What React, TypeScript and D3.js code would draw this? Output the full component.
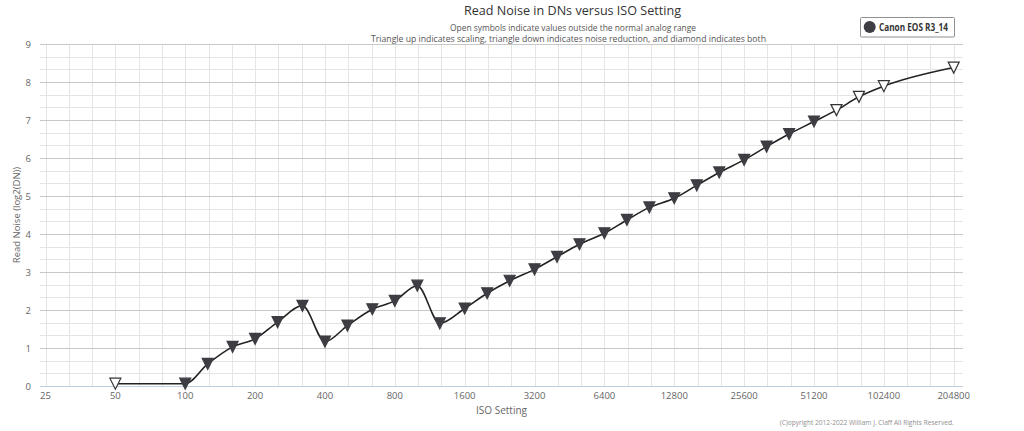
import React from "react";
import * as d3 from "d3";

const isoValues = [50, 100, 125, 160, 200, 250, 320, 400, 500, 640, 800, 1000, 1250, 1600, 2000, 2500, 3200, 4000, 5000, 6400, 8000, 10000, 12800, 16000, 20000, 25600, 32000, 40000, 51200, 64000, 80000, 102400, 204800];
const readNoise = [0.06, 0.06, 0.58, 1.03, 1.24, 1.68, 2.11, 1.17, 1.59, 2.02, 2.24, 2.64, 1.65, 2.04, 2.44, 2.77, 3.07, 3.4, 3.73, 4.02, 4.37, 4.7, 4.94, 5.28, 5.62, 5.95, 6.3, 6.63, 6.96, 7.26, 7.61, 7.89, 8.38];
const openSymbol = [true, false, false, false, false, false, false, false, false, false, false, false, false, false, false, false, false, false, false, false, false, false, false, false, false, false, false, false, false, true, true, true, true];
const xTicks = [25, 50, 100, 200, 400, 800, 1600, 3200, 6400, 12800, 25600, 51200, 102400, 204800];
const yTicks = [0, 1, 2, 3, 4, 5, 6, 7, 8, 9];
const seriesName = "Canon EOS R3_14";
const titleText = "Read Noise in DNs versus ISO Setting";
const subtitleLines = [
  "Open symbols indicate values outside the normal analog range",
  "Triangle up indicates scaling, triangle down indicates noise reduction, and diamond indicates both",
];
const xTitle = "ISO Setting";
const yTitle = "Read Noise (log2(DN))";
const credits = "(C)opyright 2012-2022 William J. Claff All Rights Reserved.";

const FONT = "'Open Sans', 'DejaVu Sans', sans-serif";

export default function App() {
  const plotLeft = 40;
  const plotRight = 963;
  const plotTop = 44;
  const plotBottom = 386;

  const x = d3.scaleLog().base(2).domain([25, 204800]).range([45.5, 953.7]);
  const y = d3.scaleLinear().domain([0, 9]).range([plotBottom, plotTop]);

  // minor vertical grid lines at 1/3 stops
  const vGrid: number[] = [];
  for (let k = 0; k <= 39; k++) vGrid.push(25 * Math.pow(2, k / 3));
  const hMinor: number[] = [];
  for (let k = 0; k <= 27; k++) if (k % 3 !== 0) hMinor.push(k / 3);

  const data = isoValues.map((iso, i) => ({ iso, v: readNoise[i], open: openSymbol[i] }));
  const line = d3
    .line<{ iso: number; v: number }>()
    .x((d) => x(d.iso))
    .y((d) => y(d.v))
    .curve(d3.curveMonotoneX);

  const r = 5.5;
  const tri = (cx: number, cy: number) =>
    `M${cx - r},${cy - r}L${cx + r},${cy - r}L${cx},${cy + r}Z`;

  return (
    <svg width={1024} height={431} style={{ position: "absolute", left: 0, top: 0, background: "#fff" }} fontFamily={FONT}>
      <rect x={0} y={0} width={1024} height={431} fill="#fff" />
      {/* vertical grid */}
      {vGrid.map((g, i) => (
        <line key={"vg" + i} x1={Math.round(x(g)) + 0.5} x2={Math.round(x(g)) + 0.5} y1={plotTop} y2={plotBottom} stroke="#e4e4e4" strokeWidth={1} />
      ))}
      {/* horizontal minor grid */}
      {hMinor.map((g, i) => (
        <line key={"hm" + i} x1={plotLeft} x2={plotRight} y1={Math.round(y(g)) + 0.5} y2={Math.round(y(g)) + 0.5} stroke="#e4e4e4" strokeWidth={1} />
      ))}
      {/* horizontal major grid */}
      {yTicks.filter((t) => t !== 0).map((t) => (
        <line key={"hM" + t} x1={plotLeft} x2={plotRight} y1={Math.round(y(t)) + 0.5} y2={Math.round(y(t)) + 0.5} stroke="#c8c8c8" strokeWidth={1} />
      ))}
      {/* x axis line */}
      <line x1={plotLeft} x2={plotRight} y1={Math.round(y(0)) + 0.5} y2={Math.round(y(0)) + 0.5} stroke="#c0d0e0" strokeWidth={1} />

      {/* y tick labels */}
      {yTicks.map((t) => (
        <text key={"yl" + t} x={31} y={y(t) + 3.5} textAnchor="end" fontSize={9.5} fill="#666">
          {t}
        </text>
      ))}
      {/* x tick labels */}
      {xTicks.map((t) => (
        <text key={"xl" + t} x={x(t)} y={399} textAnchor="middle" fontSize={9.5} fill="#666">
          {t}
        </text>
      ))}

      {/* axis titles */}
      <text x={501.5} y={414} textAnchor="middle" fontSize={10} fill="#666">
        {xTitle}
      </text>
      <text transform={`translate(20,${(plotTop + plotBottom) / 2}) rotate(-90)`} textAnchor="middle" fontSize={9.5} fill="#666">
        {yTitle}
      </text>

      {/* series line */}
      <path d={line(data) || ""} fill="none" stroke="#222" strokeWidth={1.6} />
      {/* markers */}
      {data.map((d, i) => (
        <path
          key={"m" + i}
          d={tri(x(d.iso), y(d.v))}
          fill={d.open ? "#fff" : "#3d3d43"}
          stroke={d.open ? "#333" : "#3d3d43"}
          strokeWidth={1.2}
        />
      ))}

      {/* title */}
      <text x={572.5} y={15} textAnchor="middle" fontSize={13} fill="#333" textLength={217} lengthAdjust="spacingAndGlyphs">
        {titleText}
      </text>
      <text x={573} y={31} textAnchor="middle" fontSize={9.5} fill="#555" textLength={246} lengthAdjust="spacingAndGlyphs">
        {subtitleLines[0]}
      </text>
      <text x={568.5} y={42} textAnchor="middle" fontSize={9.5} fill="#555" textLength={395} lengthAdjust="spacingAndGlyphs">
        {subtitleLines[1]}
      </text>

      {/* legend */}
      <rect x={860.5} y={17.5} width={94} height={19.5} fill="#fff" stroke="#909090" strokeWidth={1} rx={1} />
      <circle cx={869.7} cy={27} r={6} fill="#3d3d43" />
      <text x={879} y={30.5} fontSize={10} fontWeight="bold" fill="#333" textLength={69} lengthAdjust="spacingAndGlyphs">
        {seriesName}
      </text>

      {/* credits */}
      <text x={953.7} y={425} textAnchor="end" fontSize={7} fill="#909090" textLength={174} lengthAdjust="spacingAndGlyphs">
        {credits}
      </text>
    </svg>
  );
}
